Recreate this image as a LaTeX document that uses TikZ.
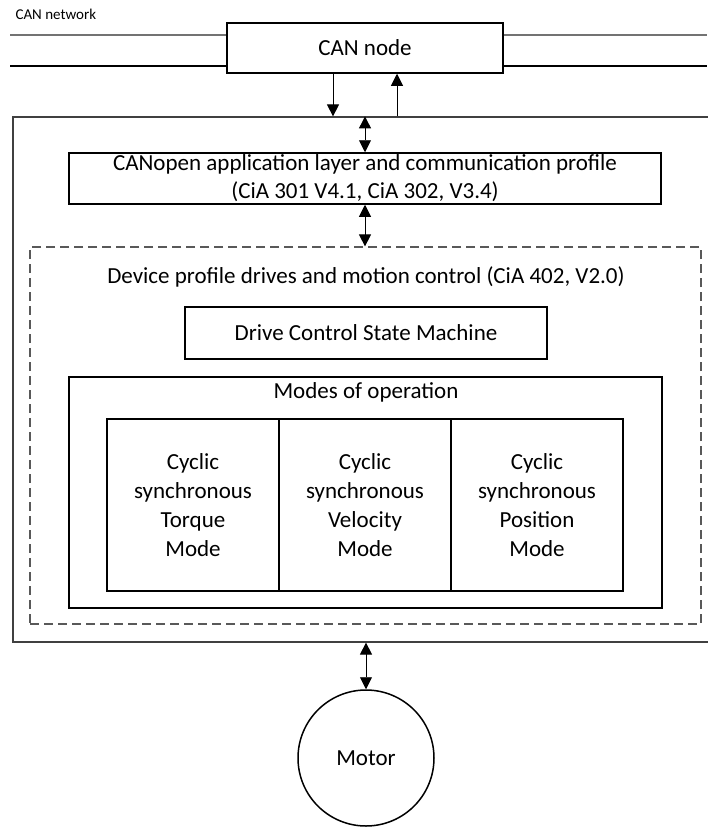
\documentclass[tikz,border=0pt]{standalone}
\usepackage{fontspec}
\setmainfont{Carlito}
\usetikzlibrary{arrows.meta}
\tikzset{
  box/.style={draw, line width=1.5pt, inner sep=0pt, align=center},
  outerbox/.style={draw=black!75, line width=1.2pt, inner sep=0pt},
  dashbox/.style={draw=black!65, line width=1.2pt, dash pattern=on 9pt off 5pt, inner sep=0pt},
  netline/.style={line width=1.2pt},
  arr/.style={line width=0.9pt, -{Triangle[length=12pt,width=12pt]}},
  dblarr/.style={line width=0.9pt, {Triangle[length=12pt,width=12pt]}-{Triangle[length=12pt,width=12pt]}}
}
\begin{document}
\begin{tikzpicture}[x=1pt, y=-1pt, font=\fontsize{23}{28}\selectfont]
    \useasboundingbox (0,0) rectangle (707,830);
    % network
    \node[box, minimum width=276, minimum height=50] (can) at (365,48) {CAN node};
    \node[anchor=west, font=\fontsize{15}{18}\selectfont] (net) at (12,14) {CAN network};
    \coordinate (netA) at (10,35);
    \coordinate (netB) at (10,66);
    \coordinate (netC) at (707,35);
    \coordinate (netD) at (707,66);
    \draw[netline, black!55] (netA) -- (netA -| can.west);
    \draw[netline] (netB) -- (netB -| can.west);
    \draw[netline, black!55] (can.east |- netC) -- (netC);
    \draw[netline] (can.east |- netD) -- (netD);

    % drive
    \node[outerbox, minimum width=696, minimum height=525] (outer) at (361,379.5) {};
    \node[box, minimum width=592, minimum height=51] (canopen) at (365,178.5)
        {CANopen application layer and communication profile\\(CiA 301 V4.1, CiA 302, V3.4)};
    \node[dashbox, minimum width=671, minimum height=377] (profile) at (365.5,435.5) {};
    \node (profiletxt) at (366,277) {Device profile drives and motion control (CiA 402, V2.0)};
    \node[box, minimum width=362, minimum height=52] (dcsm) at (366,333) {Drive Control State Machine};
    \node[box, minimum width=593, minimum height=231] (modes) at (365.5,492.5) {};
    \node (modestxt) at (366,392) {Modes of operation};
    \node[box, minimum width=172, minimum height=172, font=\fontsize{23}{29}\selectfont] (torque) at (193,505)
        {Cyclic\\synchronous\\Torque\\Mode};
    \node[box, minimum width=172, minimum height=172, font=\fontsize{23}{29}\selectfont] (velocity) at (365,505)
        {Cyclic\\synchronous\\Velocity\\Mode};
    \node[box, minimum width=172, minimum height=172, font=\fontsize{23}{29}\selectfont] (position) at (537,505)
        {Cyclic\\synchronous\\Position\\Mode};

    % motor
    \node[box, circle, minimum size=136] (motor) at (366,758) {Motor};

    \draw[arr] ([xshift=-32pt]can.south) -- ([xshift=-32pt]can.south |- outer.north);
    \draw[arr] ([xshift=32pt]can.south |- outer.north) -- ([xshift=32pt]can.south);
    \draw[dblarr] (canopen.north |- outer.north) -- (canopen.north);
    \draw[dblarr] (canopen.south) -- (canopen.south |- profile.north);
    \draw[dblarr] (motor.north |- outer.south) -- (motor.north);
\end{tikzpicture}
\end{document}
